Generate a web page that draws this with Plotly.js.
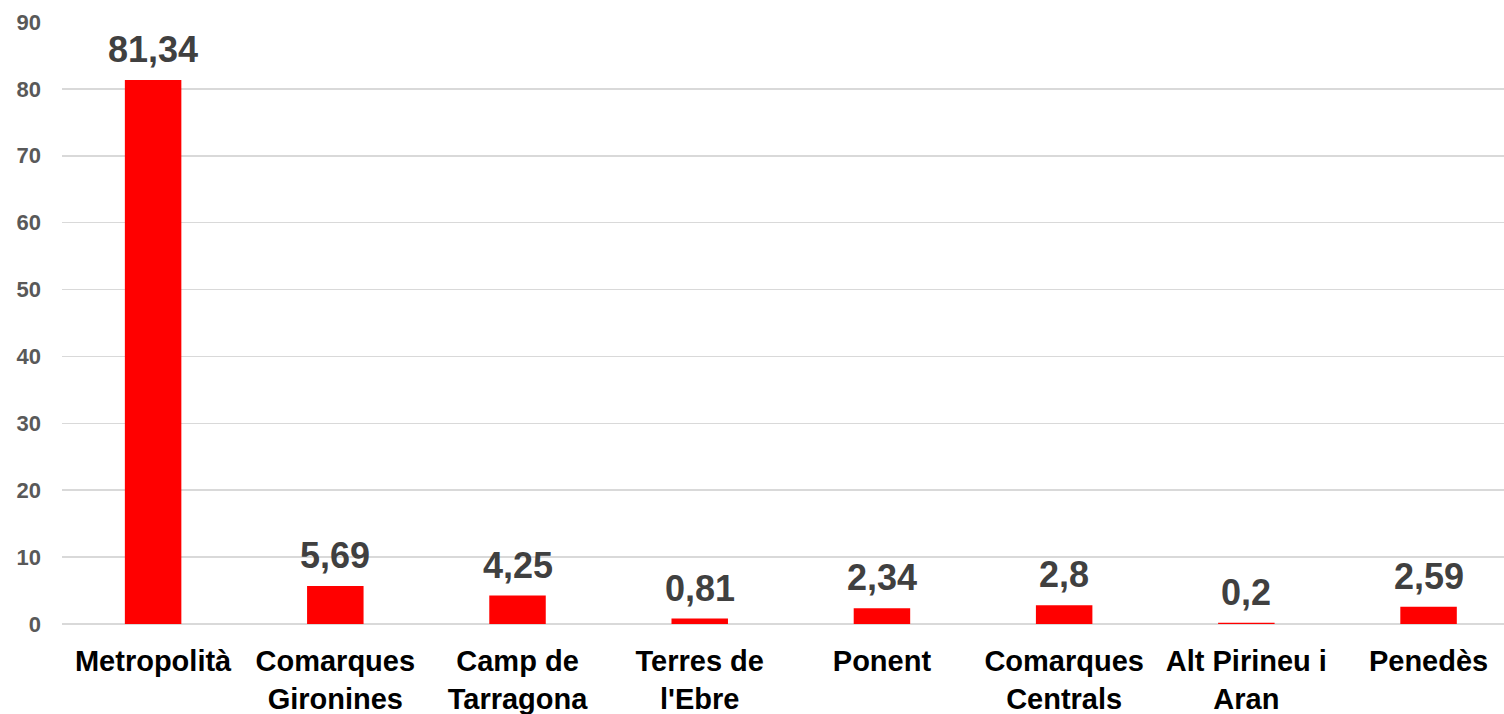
<!DOCTYPE html>
<html>
<head>
<meta charset="utf-8">
<script src="https://cdn.plot.ly/plotly-3.0.1.min.js"></script>
<style>html,body{margin:0;padding:0;background:#fff;}#chart{width:1504px;height:714px;}</style>
</head>
<body>
<div id="chart"></div>
<script>
const categories = ["Metropolità", "Comarques<br>Gironines", "Camp de<br>Tarragona", "Terres de<br>l'Ebre", "Ponent", "Comarques<br>Centrals", "Alt Pirineu i<br>Aran", "Penedès"];
const values = [81.34, 5.69, 4.25, 0.81, 2.34, 2.8, 0.2, 2.59];
const valueLabels = ["81,34", "5,69", "4,25", "0,81", "2,34", "2,8", "0,2", "2,59"];
const yTicks = [0, 10, 20, 30, 40, 50, 60, 70, 80, 90];

const fontFam = "Liberation Sans, Arial, sans-serif";

const trace = {
  type: "bar",
  x: categories,
  y: values,
  marker: {color: "#ff0000"},
  hoverinfo: "none"
};

const annotations = categories.map((c, i) => ({
  x: c, y: values[i], xref: "x", yref: "y",
  text: valueLabels[i], showarrow: false,
  yanchor: "bottom", yshift: 8,
  font: {family: fontFam, size: 36, color: "#404040", weight: "bold"}
}));

const layout = {
  width: 1504, height: 714,
  margin: {l: 62, r: 0, t: 22, b: 90},
  paper_bgcolor: "#fff", plot_bgcolor: "#fff",
  bargap: 0.69,
  showlegend: false,
  xaxis: {
    type: "category",
    range: [-0.5, 7.414],
    showgrid: false, zeroline: false, showline: false,
    ticks: "",
    tickfont: {family: fontFam, size: 29, color: "#000", weight: "bold"},
    ticklabelstandoff: 17
  },
  yaxis: {
    range: [0, 90],
    tickvals: yTicks,
    ticktext: yTicks.map(String),
    showgrid: true, gridcolor: "#d9d9d9", gridwidth: 1.5,
    zeroline: true, zerolinecolor: "#d9d9d9", zerolinewidth: 1.5,
    showline: false, ticks: "",
    tickfont: {family: fontFam, size: 22, color: "#595959", weight: "bold"},
    ticklabelstandoff: 20
  },
  annotations: annotations
};

Plotly.newPlot("chart", [trace], layout, {displayModeBar: false, staticPlot: true});
</script>
</body>
</html>
